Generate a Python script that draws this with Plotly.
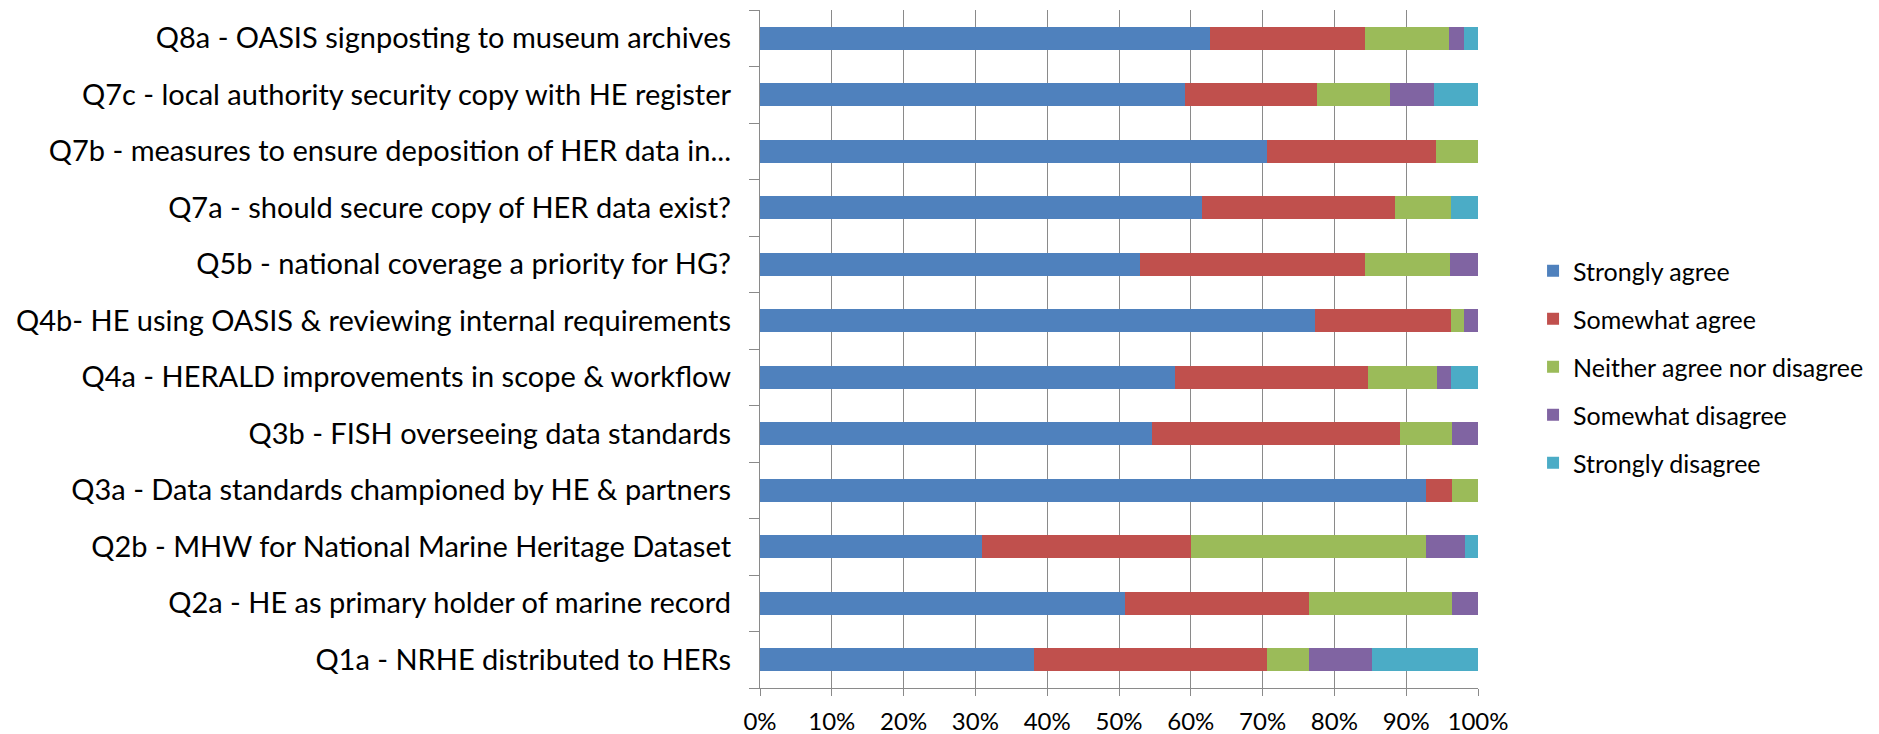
import plotly.graph_objects as go

# questions, bottom to top
questions = [
    "Q1a - NRHE distributed to HERs",
    "Q2a - HE as primary holder of marine record",
    "Q2b - MHW for National Marine Heritage Dataset",
    "Q3a - Data standards championed by HE & partners",
    "Q3b - FISH overseeing data standards",
    "Q4a - HERALD improvements in scope & workflow",
    "Q4b- HE using OASIS & reviewing internal requirements",
    "Q5b - national coverage a priority for HG?",
    "Q7a - should secure copy of HER data exist?",
    "Q7b - measures to ensure deposition of HER data in...",
    "Q7c - local authority security copy with HE register",
    "Q8a - OASIS signposting to museum archives",
]

# share of responses (%) per question, same order as above
strongly_agree = [38.2, 50.9, 30.9, 92.7, 54.5, 57.7, 77.4, 52.9, 61.5, 70.6, 59.2, 62.7]
somewhat_agree = [32.4, 25.5, 29.1, 3.6, 34.5, 26.9, 18.9, 31.4, 26.9, 23.5, 18.4, 21.6]
neither = [5.9, 20.0, 32.7, 3.6, 7.3, 9.6, 1.9, 11.8, 7.7, 5.9, 10.2, 11.8]
somewhat_disagree = [8.8, 3.6, 5.5, 0, 3.6, 1.9, 1.9, 3.9, 0, 0, 6.1, 2.0]
strongly_disagree = [14.7, 0, 1.8, 0, 0, 3.8, 0, 0, 3.8, 0, 6.1, 2.0]

series = [
    ("Strongly agree", strongly_agree, "#4F81BD"),
    ("Somewhat agree", somewhat_agree, "#C0504D"),
    ("Neither agree nor disagree", neither, "#9BBB59"),
    ("Somewhat disagree", somewhat_disagree, "#8064A2"),
    ("Strongly disagree", strongly_disagree, "#4BACC6"),
]

FONT = "Lato, Carlito, Calibri, sans-serif"
GRID = "#8a8a8a"

fig = go.Figure()
for name, vals, color in series:
    fig.add_trace(go.Bar(
        y=questions,
        x=vals,
        name=name,
        orientation="h",
        legendgroup=name,
        marker=dict(color=color, line=dict(width=0)),
    ))

# the page body adds an 8px margin, so the figure is 8px smaller than the window
fig.update_layout(
    barmode="stack",
    barnorm="percent",
    bargap=0.6,
    width=1871,
    height=726,
    margin=dict(l=752, r=401, t=2, b=46, autoexpand=False),
    paper_bgcolor="white",
    plot_bgcolor="white",
    font=dict(family=FONT, size=24, color="#000000"),
    legend=dict(
        xref="container",
        yref="container",
        x=0.8151,
        y=0.5055,
        xanchor="left",
        yanchor="middle",
        traceorder="grouped",
        tracegroupgap=12.5,
        font=dict(family=FONT, size=25),
        itemwidth=30,
    ),
    xaxis=dict(
        range=[0, 100],
        tickvals=[0, 10, 20, 30, 40, 50, 60, 70, 80, 90, 100],
        ticktext=[f"{v}%" for v in range(0, 101, 10)],
        showgrid=True,
        gridcolor=GRID,
        gridwidth=1.3,
        showline=True,
        linecolor=GRID,
        linewidth=1.3,
        ticks="outside",
        ticklen=7,
        tickcolor=GRID,
        tickwidth=1.3,
        ticklabelstandoff=5,
        tickfont=dict(size=24),
        zeroline=False,
        automargin=False,
        fixedrange=True,
    ),
    yaxis=dict(
        categoryorder="array",
        categoryarray=questions,
        showline=True,
        linecolor=GRID,
        linewidth=1.3,
        ticks="outside",
        tickson="boundaries",
        ticklen=10,
        tickcolor=GRID,
        tickwidth=1.3,
        ticklabelstandoff=22,
        tickfont=dict(size=29),
        showgrid=False,
        automargin=False,
        fixedrange=True,
    ),
)

fig.write_html("out.html")
